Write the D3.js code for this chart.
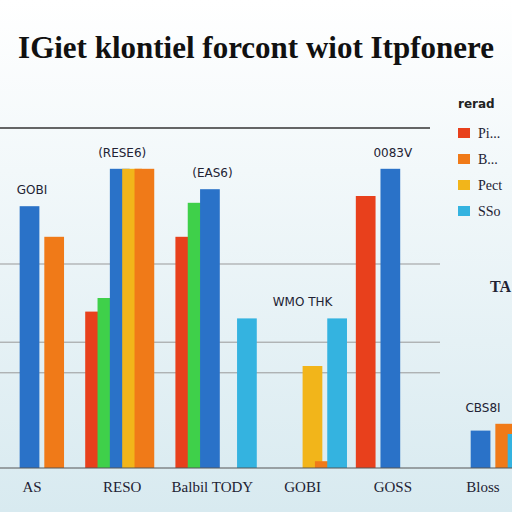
<!DOCTYPE html>
<html><head><meta charset="utf-8">
<script src="https://cdn.jsdelivr.net/npm/d3@7"></script>
<style>body{margin:0;overflow:hidden}svg{display:block}</style>
</head><body>
<script>
const categories = ["AS", "RESO", "Balbil TODY", "GOBI", "GOSS", "Bloss"];
const series = ["Red", "Green", "Blue", "Yellow", "Orange", "Cyan"];
const colors = ["#e8401c", "#3fd04a", "#2a72c8", "#f2b51a", "#f07a18", "#34b3e0"];
// values per category, per series (0 = no bar)
const values = [
  [0, 0, 77, 0, 68, 0],
  [46, 50, 88, 88, 88, 0],
  [68, 78, 82, 0, 0, 44],
  [0, 0, 0, 30, 2, 44],
  [80, 0, 88, 0, 0, 0],
  [0, 0, 11, 0, 13, 10]
];
const barLabels = ["GOBI", "(RESE6)", "(EAS6)", "WMO THK", "0083V", "CBS8I"];
const legendNames = ["Pi...", "B...", "Pect", "SSo"];
const legendColors = ["#e8401c", "#f07a18", "#f2b51a", "#34b3e0"];

const W = 512, H = 512;
const svg = d3.select("body").append("svg").attr("width", W).attr("height", H);
const defs = svg.append("defs");
const g = defs.append("linearGradient").attr("id", "bg").attr("x1", 0).attr("y1", 0).attr("x2", 0).attr("y2", 1);
g.append("stop").attr("offset", 0).attr("stop-color", "#ffffff");
g.append("stop").attr("offset", 1).attr("stop-color", "#d8eaf0");
svg.append("rect").attr("width", W).attr("height", H).attr("fill", "url(#bg)");

svg.append("text").attr("x", 256).attr("y", 58).attr("text-anchor", "middle")
  .attr("font-family", "Liberation Serif").attr("font-weight", "bold").attr("font-size", 31)
  .attr("fill", "#111").text("IGiet klontiel forcont wiot Itpfonere");

const x = d3.scaleBand().domain(categories).range([-5, 520]).paddingInner(0.18);
const xs = d3.scaleBand().domain(series).range([0, x.bandwidth()]).padding(0);
const y = d3.scaleLinear().domain([0, 100]).range([468, 128]);

[100, 60, 37, 28].forEach((v, i) => {
  svg.append("line").attr("x1", 0).attr("x2", i == 0 ? 430 : 440).attr("y1", y(v)).attr("y2", y(v))
    .attr("stroke", i == 0 ? "#333" : "#999").attr("stroke-width", i == 0 ? 1.5 : 1);
});

categories.forEach((c, ci) => {
  const gg = svg.append("g").attr("transform", `translate(${x(c)},0)`);
  values[ci].forEach((v, si) => {
    if (!v) return;
    gg.append("rect").attr("x", xs(series[si])).attr("width", xs.bandwidth() * 1.6)
      .attr("y", y(v)).attr("height", y(0) - y(v)).attr("fill", colors[si]);
  });
  const mx = d3.max(values[ci]);
  gg.append("text").attr("x", x.bandwidth() / 2).attr("y", y(mx) - 12).attr("text-anchor", "middle")
    .attr("font-family", "DejaVu Sans").attr("font-size", 12).attr("fill", "#223").text(barLabels[ci]);
  svg.append("text").attr("x", x(c) + x.bandwidth() / 2).attr("y", 492).attr("text-anchor", "middle")
    .attr("font-family", "Liberation Serif").attr("font-size", 15).attr("fill", "#223").text(c);
});
svg.append("line").attr("x1", 0).attr("x2", 512).attr("y1", 468).attr("y2", 468).attr("stroke", "#555");
svg.append("text").attr("x", 490).attr("y", 292).attr("font-family", "Liberation Serif").attr("font-weight", "bold")
  .attr("font-size", 16).attr("fill", "#223").text("TA");

svg.append("text").attr("x", 458).attr("y", 108).attr("font-family", "DejaVu Sans").attr("font-weight", "bold")
  .attr("font-size", 12).attr("fill", "#222").text("rerad");
legendNames.forEach((n, i) => {
  const ly = 128 + i * 26;
  svg.append("rect").attr("x", 458).attr("y", ly).attr("width", 12).attr("height", 10).attr("fill", legendColors[i]);
  svg.append("text").attr("x", 478).attr("y", ly + 10).attr("font-family", "Liberation Serif")
    .attr("font-size", 14).attr("fill", "#223").text(n);
});
</script>
</body></html>
